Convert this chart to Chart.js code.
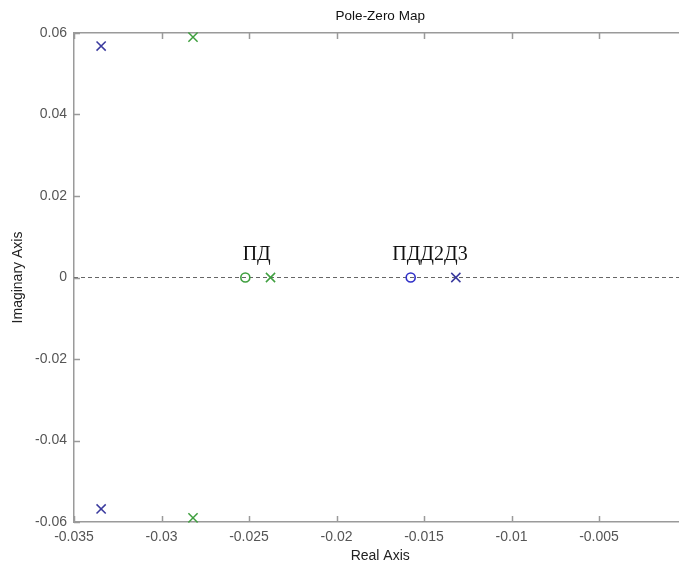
<!DOCTYPE html>
<html>
<head>
<meta charset="utf-8">
<script src="https://cdn.jsdelivr.net/npm/chart.js@4"></script>
<style>
  html, body { margin: 0; padding: 0; background: #fff; overflow: hidden; }
  canvas { display: block; }
</style>
</head>
<body>
<canvas id="pzChart" width="700" height="566"></canvas>
<script>
// poles / zeros (real, imaginary)
const pdPolesRe = [-0.0282, -0.0282, -0.02377];
const pdPolesIm = [0.059, -0.059, 0];
const pdZerosRe = [-0.02521];
const pdZerosIm = [0];

const pddPolesRe = [-0.03345, -0.03345, -0.01318];
const pddPolesIm = [0.0568, -0.0568, 0];
const pddZerosRe = [-0.01576];
const pddZerosIm = [0];

// text labels put on the plot
const noteTexts = ['ПД', 'ПДД2Д3'];
const noteRe = [-0.02456, -0.01466];
const noteIm = [0.0055, 0.0055];

// axes
const xLimits = [-0.035, 0];
const yLimits = [-0.06, 0.06];
const xTickValues = [-0.035, -0.03, -0.025, -0.02, -0.015, -0.01, -0.005, 0];
const xTickLabels = ['-0.035', '-0.03', '-0.025', '-0.02', '-0.015', '-0.01', '-0.005', '0'];
const yTickValues = [-0.06, -0.04, -0.02, 0, 0.02, 0.04, 0.06];
const yTickLabels = ['-0.06', '-0.04', '-0.02', '0', '0.02', '0.04', '0.06'];

const toPoints = (re, im) => re.map((r, i) => ({ x: r, y: im[i] }));

const blue = '#3a3a9e';
const blueZero = '#3030c8';
const green = '#3f9f3f';
const frameColor = '#9a9a9a';
const labelFont = { family: 'Liberation Sans, Arial, sans-serif', size: 14 };

// inward tick marks (matlab style) + text notes
const extras = {
    id: 'extras',
    afterDraw(chart) {
        const { ctx, chartArea: a, scales } = chart;
        const x = scales.x, y = scales.y;
        ctx.save();
        ctx.strokeStyle = frameColor;
        ctx.lineWidth = 1.5;
        ctx.beginPath();
        xTickValues.forEach(v => {
            const px = Math.round(x.getPixelForValue(v)) + 0.5;
            ctx.moveTo(px, a.bottom); ctx.lineTo(px, a.bottom - 6);
            ctx.moveTo(px, a.top); ctx.lineTo(px, a.top + 6);
        });
        yTickValues.forEach(v => {
            const py = Math.round(y.getPixelForValue(v)) + 0.5;
            ctx.moveTo(a.left, py); ctx.lineTo(a.left + 6, py);
            ctx.moveTo(a.right, py); ctx.lineTo(a.right - 6, py);
        });
        ctx.stroke();

        ctx.fillStyle = '#111';
        ctx.font = '20px "Liberation Serif", "Times New Roman", serif';
        ctx.textAlign = 'center';
        ctx.textBaseline = 'middle';
        noteTexts.forEach((t, i) => {
            ctx.fillText(t, x.getPixelForValue(noteRe[i]), y.getPixelForValue(noteIm[i]));
        });
        ctx.restore();
    }
};

const data = {
    datasets: [
        {
            label: 'zero line',
            type: 'line',
            data: [{ x: xLimits[0], y: 0 }, { x: xLimits[1], y: 0 }],
            borderColor: '#666',
            borderWidth: 1,
            borderDash: [4, 3],
            pointRadius: 0,
            order: 10
        },
        {
            label: 'PD poles',
            data: toPoints(pdPolesRe, pdPolesIm),
            pointStyle: 'crossRot',
            pointRadius: 6.5,
            borderColor: green,
            borderWidth: 1.5,
            clip: false
        },
        {
            label: 'PD zeros',
            data: toPoints(pdZerosRe, pdZerosIm),
            pointStyle: 'circle',
            pointRadius: 4.5,
            backgroundColor: 'rgba(0,0,0,0)',
            borderColor: green,
            borderWidth: 1.6,
            clip: false
        },
        {
            label: 'PDD2D3 poles',
            data: toPoints(pddPolesRe, pddPolesIm),
            pointStyle: 'crossRot',
            pointRadius: 6.5,
            borderColor: blue,
            borderWidth: 1.5,
            clip: false
        },
        {
            label: 'PDD2D3 zeros',
            data: toPoints(pddZerosRe, pddZerosIm),
            pointStyle: 'circle',
            pointRadius: 4.5,
            backgroundColor: 'rgba(0,0,0,0)',
            borderColor: blueZero,
            borderWidth: 1.6,
            clip: false
        }
    ]
};

const config = {
    type: 'scatter',
    data: data,
    options: {
        responsive: false,
        animation: false,
        layout: { padding: { left: 0, right: 13.5, top: 0, bottom: 0 } },
        plugins: {
            legend: { display: false },
            tooltip: { enabled: false }
        },
        scales: {
            x: {
                type: 'linear',
                position: 'bottom',
                min: xLimits[0],
                max: xLimits[1],
                afterBuildTicks: s => { s.ticks = xTickValues.map(v => ({ value: v })); },
                afterFit: s => { s.height = 44; },
                grid: { display: false, drawTicks: false },
                border: { display: true, color: frameColor, width: 1.5 },
                ticks: {
                    padding: 7,
                    maxRotation: 0,
                    autoSkip: false,
                    color: '#555',
                    font: labelFont,
                    callback: (v, i) => xTickLabels[i]
                },
                title: {
                    display: true,
                    text: 'Real Axis',
                    color: '#222',
                    font: labelFont,
                    padding: { top: 0, bottom: 1 }
                }
            },
            xTop: {
                type: 'linear',
                position: 'top',
                min: xLimits[0],
                max: xLimits[1],
                afterFit: s => { s.height = 33; },
                grid: { display: false, drawTicks: false },
                border: { display: true, color: frameColor, width: 1.5 },
                ticks: { display: false },
                title: {
                    display: true,
                    text: 'Pole-Zero Map',
                    color: '#111',
                    font: { family: 'Liberation Sans, Arial, sans-serif', size: 13.5 },
                    padding: { top: 8, bottom: 0 }
                }
            },
            y: {
                type: 'linear',
                position: 'left',
                min: yLimits[0],
                max: yLimits[1],
                afterBuildTicks: s => { s.ticks = yTickValues.map(v => ({ value: v })); },
                afterFit: s => { s.width = 74; },
                grid: { display: false, drawTicks: false },
                border: { display: true, color: frameColor, width: 1.5 },
                ticks: {
                    padding: 7,
                    color: '#555',
                    font: labelFont,
                    callback: (v, i) => yTickLabels[i]
                },
                title: {
                    display: true,
                    text: 'Imaginary Axis',
                    color: '#222',
                    font: labelFont,
                    padding: { top: 10, bottom: 0 }
                }
            }
        }
    },
    plugins: [extras]
};

const ctx = document.getElementById('pzChart').getContext('2d');
const pzChart = new Chart(ctx, config);
</script>
</body>
</html>
